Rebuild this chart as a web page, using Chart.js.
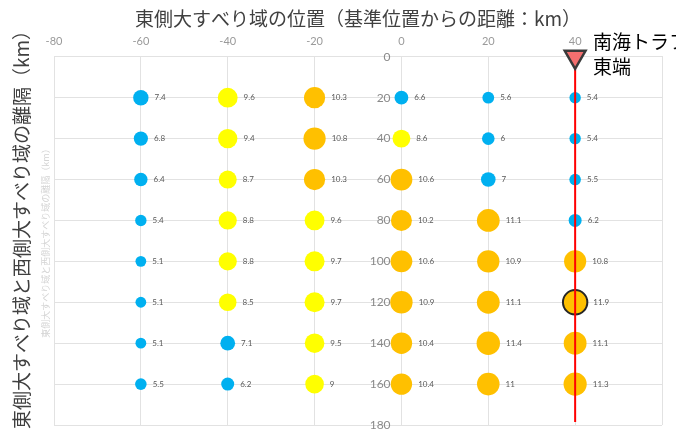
<!DOCTYPE html>
<html lang="ja">
<head>
<meta charset="utf-8">
<title>東側大すべり域の位置</title>
<script src="https://cdn.jsdelivr.net/npm/chart.js@4.4.1/dist/chart.umd.min.js"></script>
<style>
  html, body { margin: 0; padding: 0; background: #fff; }
  #wrap { width: 676px; height: 435px; position: relative; }
</style>
</head>
<body>
<div id="wrap"><canvas id="slipChart"></canvas></div>
<script>
// positions of the eastern large-slip area (km from reference point)
const eastPositions = [-60, -40, -20, 0, 20, 40];
// separation between east and west large-slip areas (km)
const separations = [20, 40, 60, 80, 100, 120, 140, 160];

// values per column, top to bottom (rows = separations)
const valsAtMinus60 = [7.4, 6.8, 6.4, 5.4, 5.1, 5.1, 5.1, 5.5];
const valsAtMinus40 = [9.6, 9.4, 8.7, 8.8, 8.8, 8.5, 7.1, 6.2];
const valsAtMinus20 = [10.3, 10.8, 10.3, 9.6, 9.7, 9.7, 9.5, 9];
const valsAt0 = [6.6, 8.6, 10.6, 10.2, 10.6, 10.9, 10.4, 10.4];
const valsAt20 = [5.6, 6, 7, 11.1, 10.9, 11.1, 11.4, 11];
const valsAt40 = [5.4, 5.4, 5.5, 6.2, 10.8, 11.9, 11.1, 11.3];
const columns = [valsAtMinus60, valsAtMinus40, valsAtMinus20, valsAt0, valsAt20, valsAt40];

// highlighted case
const highlightX = 40;
const highlightY = 120;

// Nankai trough east end marker
const troughEastX = 40;
const troughLineY = [0, 178.5];

const X_MIN = -80, X_MAX = 60;
const Y_MIN = 0, Y_MAX = 180;

const COLOR_LOW = "#00b0f0";   // blue
const COLOR_MID = "#ffff00";   // yellow
const COLOR_HIGH = "#ffc000";  // orange
const COLOR_GRID = "#e2e2e2";
const FONT_JP = '"Noto Sans CJK JP", "Noto Sans", sans-serif';

function colorFor(v) {
  if (v >= 10) return COLOR_HIGH;
  if (v >= 8) return COLOR_MID;
  return COLOR_LOW;
}

const bubblePoints = [];
eastPositions.forEach((x, ci) => {
  separations.forEach((y, ri) => {
    const v = columns[ci][ri];
    bubblePoints.push({ x, y, r: v + 0.3, v });
  });
});

const isHighlight = (p) => p && p.x === highlightX && p.y === highlightY;

// text drawn on top of the chart: bubble labels, y title, annotation
const extraText = {
  id: "extraText",
  afterDatasetsDraw(chart) {
    const ctx = chart.ctx;
    const meta = chart.getDatasetMeta(1);
    ctx.save();
    ctx.font = '8px Lato, "DejaVu Sans", sans-serif';
    ctx.fillStyle = "#595959";
    ctx.textAlign = "left";
    ctx.textBaseline = "middle";
    meta.data.forEach((el, i) => {
      const p = bubblePoints[i];
      ctx.fillText(String(p.v), el.x + p.r + 6, el.y);
    });
    ctx.restore();
  },
  afterDraw(chart) {
    const ctx = chart.ctx;
    ctx.save();
    // faint duplicate of the axis title
    ctx.save();
    ctx.translate(46, 241);
    ctx.rotate(-Math.PI / 2);
    ctx.font = "9px " + FONT_JP;
    ctx.fillStyle = "#d4d4d4";
    ctx.textAlign = "center";
    ctx.textBaseline = "middle";
    ctx.fillText("東側大すべり域と西側大すべり域の離隔（km）", 0, 0);
    ctx.restore();

    // y axis title
    ctx.save();
    ctx.translate(22, 225);
    ctx.rotate(-Math.PI / 2);
    ctx.font = "19px " + FONT_JP;
    ctx.fillStyle = "#404040";
    ctx.textAlign = "center";
    ctx.textBaseline = "middle";
    ctx.fillText("東側大すべり域と西側大すべり域の離隔（km）", 0, 0);
    ctx.restore();

    // trough annotation
    ctx.font = "19px " + FONT_JP;
    ctx.fillStyle = "#000";
    ctx.textAlign = "left";
    ctx.textBaseline = "middle";
    ctx.fillText("南海トラフ", 593, 42);
    ctx.fillText("東端", 593, 67);
    ctx.restore();
  },
};

new Chart(document.getElementById("slipChart"), {
  data: {
    datasets: [
      {
        type: "line",
        order: 0,
        data: troughLineY.map((y) => ({ x: troughEastX, y })),
        borderColor: "#ff0000",
        borderWidth: 2,
        pointStyle: "triangle",
        rotation: 180,
        pointRadius: [12, 0],
        pointBackgroundColor: "#f46f6f",
        pointBorderColor: "#3a3a3a",
        pointBorderWidth: 2.5,
        clip: false,
      },
      {
        type: "bubble",
        order: 1,
        data: bubblePoints,
        backgroundColor: (ctx) => colorFor(ctx.raw ? ctx.raw.v : 0),
        borderColor: (ctx) => (isHighlight(ctx.raw) ? "#262626" : "rgba(0,0,0,0)"),
        borderWidth: (ctx) => (isHighlight(ctx.raw) ? 2 : 0),
      },
    ],
  },
  options: {
    responsive: true,
    maintainAspectRatio: false,
    animation: false,
    layout: {
      autoPadding: false,
      padding: { left: 54, right: 14, top: 0, bottom: 10 },
    },
    scales: {
      x: {
        type: "linear",
        position: "top",
        min: X_MIN,
        max: X_MAX,
        ticks: {
          stepSize: 20,
          padding: 9,
          color: "#9a9a9a",
          font: { family: "Lato, sans-serif", size: 11 },
          callback: (val) => (val === X_MAX ? "" : String(val)),
        },
        grid: { color: COLOR_GRID, drawTicks: false },
        border: { color: COLOR_GRID },
        afterFit: (scale) => {
          // keep the top tick row tight under the title
          scale.height = 22;
        },
      },
      y: {
        type: "linear",
        // labels sit just left of the x = 0 gridline
        position: { x: -2.5 },
        reverse: true,
        min: Y_MIN,
        max: Y_MAX,
        ticks: {
          stepSize: 20,
          color: "#8a8a8a",
          font: { family: "Lato, sans-serif", size: 12 },
        },
        grid: { color: COLOR_GRID, drawTicks: false },
        border: { display: false },
        afterFit: (scale) => {
          // end labels may overhang the plot like in the original
          scale.paddingTop = 0;
          scale.paddingBottom = 0;
        },
      },
    },
    plugins: {
      legend: { display: false },
      tooltip: { enabled: false },
      title: {
        display: true,
        text: "東側大すべり域の位置（基準位置からの距離：km）",
        color: "#404040",
        font: { family: FONT_JP, size: 19, weight: "normal" },
        padding: { top: 7, bottom: 5 },
      },
    },
  },
  plugins: [extraText],
});
</script>
</body>
</html>
